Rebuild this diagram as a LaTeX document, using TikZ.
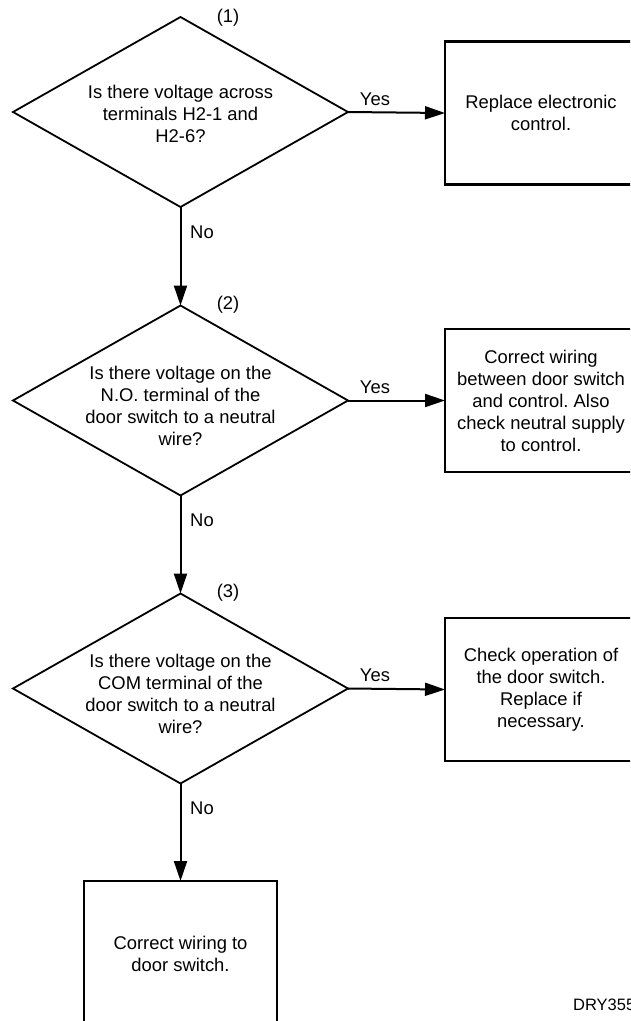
\documentclass[tikz,border=0pt]{standalone}
\usepackage{fontspec}
\setmainfont{Liberation Sans}
\usetikzlibrary{shapes.geometric,arrows.meta}
\frenchspacing
\begin{document}
\begin{tikzpicture}[x=1pt,y=-1pt,
  every node/.style={font=\fontsize{18.4}{22}\selectfont},
  dia/.style={shape=diamond,draw,line width=1.8pt,minimum width=335pt,minimum height=190pt,inner sep=0pt,outer sep=0pt},
  txt/.style={align=center,inner sep=0pt},
  box/.style={rectangle,draw,line width=2.7pt,minimum width=192pt,minimum height=143pt,inner sep=0pt,outer sep=0pt,align=center},
  arr/.style={line width=2pt,-{Triangle[length=20pt,width=13pt]}},
  lbl/.style={inner sep=0pt}]
\clip (0,0) rectangle (630,1021);
\fill[white] (0,0) rectangle (630,1021);
% diamonds
\node[dia] (d1) at (180.5,112) {};
\node[txt] (t1) at (180.5,113.5) {Is there voltage across\\terminals H2-1 and\\H2-6?};
\node[dia] (d2) at (180.5,400.5) {};
\node[txt] (t2) at (180.5,405.5) {Is there voltage on the\\N.O. terminal of the\\door switch to a neutral\\wire?};
\node[dia] (d3) at (180.5,688.5) {};
\node[txt] (t3) at (180.5,694) {Is there voltage on the\\COM terminal of the\\door switch to a neutral\\wire?};
% numbers
\node[lbl] (n1) at (228,18) {(1)};
\node[lbl] (n2) at (228,305) {(2)};
\node[lbl] (n3) at (228,593) {(3)};
% boxes
\node[box] (b1) at (541,113) {Replace electronic\\control.};
\node[box] (b2) at (541,400.5) {Correct wiring\\between door switch\\and control. Also\\check neutral supply\\to control.};
\node[box] (b3) at (541,689.5) {Check operation of\\the door switch.\\Replace if\\necessary.};
\node[box,minimum width=193pt,minimum height=146pt] (b4) at (180.5,954) {Correct wiring to\\door switch.};
% connectors
\draw[arr] (d1.east) -- (b1.west);
\draw[arr] (d2.east) -- (b2.west);
\draw[arr] (d3.east) -- (b3.west);
\draw[arr] (d1.south) -- (d2.north);
\draw[arr] (d2.south) -- (d3.north);
\draw[arr] (d3.south) -- (b4.north);
% labels
\node[lbl] (y1) at (375,99) {Yes};
\node[lbl] (y2) at (375,387) {Yes};
\node[lbl] (y3) at (375,675) {Yes};
\node[lbl] (no1) at (202,232) {No};
\node[lbl] (no2) at (202,520) {No};
\node[lbl] (no3) at (202,808) {No};
\node[lbl,anchor=west,font=\fontsize{16.5}{20}\selectfont] (ref) at (573,1005) {DRY355};
\end{tikzpicture}
\end{document}
